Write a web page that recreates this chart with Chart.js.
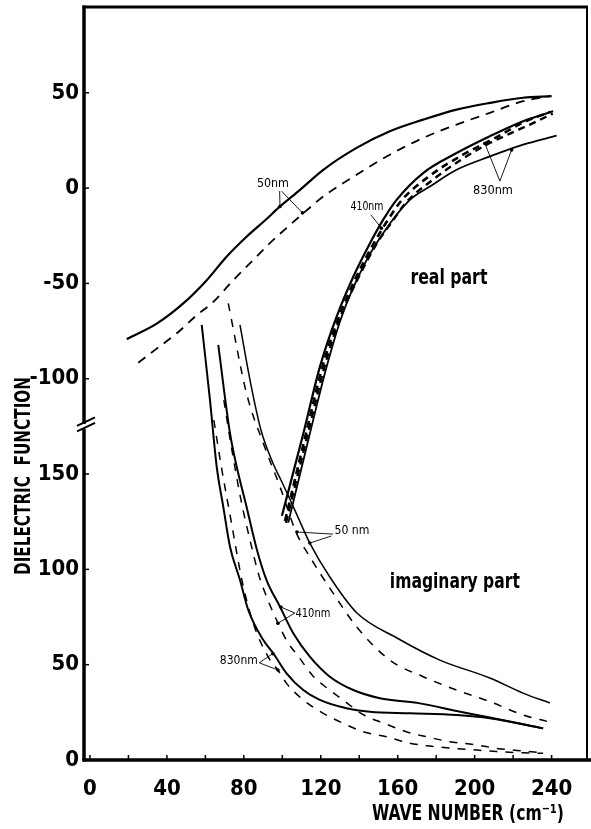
<!DOCTYPE html>
<html><head><meta charset="utf-8">
<script src="https://cdn.jsdelivr.net/npm/chart.js@4.4.1/dist/chart.umd.min.js"></script>
<style>html,body{margin:0;padding:0;background:#fff}#wrap{width:591px;height:829px;position:relative}</style>
</head><body><div id="wrap"><canvas id="c"></canvas></div>
<script>
// ---- tick labels ----
const xTickLabels = [0, 40, 80, 120, 160, 200, 240];
const xMinorTicks = [0, 20, 40, 60, 80, 100, 120, 140, 160, 180, 200, 220, 240];
const imagTickLabels = [0, 50, 100, 150];
const realTickLabels = [-100, -50, 0, 50];

// ---- real part series: [wave number, epsilon'] ----
const real50Solid = [[19.1,-79.2],[34.7,-71.1],[48.5,-60.5],[60.7,-48.3],[71.0,-36.0],[81.4,-25.5],[91.8,-16.2],[98.8,-9.6],[109.2,-0.9],[121.3,9.6],[138.6,21.1],[155.9,29.8],[173.2,35.9],[190.6,41.2],[207.9,44.7],[225.2,47.4],[240.0,48.2]];
const real50Dashed = [[25.1,-91.6],[34.7,-84.2],[45.0,-76.3],[55.5,-66.7],[64.1,-59.7],[74.5,-48.3],[84.9,-37.7],[95.3,-27.2],[104.0,-19.3],[110.9,-13.2],[121.3,-4.4],[138.6,7.0],[155.9,17.5],[173.2,26.3],[190.6,33.3],[207.9,39.5],[225.2,45.6],[239.1,48.2]];
const real410Solid = [[99.8,-171.9],[110.9,-128.9],[119.5,-93.9],[128.2,-67.6],[136.9,-46.5],[145.6,-28.9],[152.4,-16.7],[159.4,-6.2],[173.2,7.9],[190.6,18.4],[207.9,27.2],[225.2,35.1],[240.8,40.3]];
const real410Dashed = [[101.4,-174.6],[112.3,-128.8],[120.8,-93.9],[129.4,-67.6],[138.5,-46.5],[147.6,-28.9],[154.9,-16.7],[162.2,-6.2],[176.7,6.5],[193.9,17.5],[211.0,26.5],[225.2,34.4],[239.1,39.9]];
const real830Dashed = [[101.9,-175.6],[113.3,-128.8],[121.9,-93.9],[130.2,-67.6],[139.8,-46.5],[149.2,-28.9],[157.0,-17.7],[164.2,-7.7],[178.3,4.4],[193.9,15.5],[205.3,22.3],[218.3,28.6],[228.7,33.3],[240.6,39.1]];
const real830Solid = [[103.1,-175.5],[114.3,-128.9],[123.0,-93.9],[130.8,-67.6],[142.0,-41.3],[152.4,-23.7],[166.3,-6.2],[176.7,0.8],[190.6,9.6],[207.9,16.6],[225.2,22.8],[242.6,27.5]];

// ---- imaginary part series: [wave number, epsilon''] ----
const imag50Solid = [[78.0,228.2],[83.2,199.3],[88.9,173.1],[95.1,155.8],[99.8,145.8],[106.5,131.1],[114.3,113.8],[124.7,96.0],[138.8,77.1],[159.6,64.0],[181.9,52.4],[207.9,43.0],[225.1,35.1],[239.1,29.9]];
const imag50Dashed = [[71.9,239.5],[81.4,192.3],[90.1,166.1],[98.8,143.3],[107.4,118.9],[114.3,106.6],[126.5,87.4],[138.6,69.9],[155.9,52.4],[173.2,43.7],[190.6,36.7],[207.9,30.6],[225.2,23.6],[238.2,20.1]];
const imag410Solid = [[66.7,217.7],[72.8,171.4],[76.3,153.8],[81.4,132.9],[86.6,111.0],[91.8,94.4],[98.8,80.4],[105.7,66.5],[114.3,54.2],[124.7,43.7],[136.9,36.7],[150.7,32.4],[171.5,29.7],[190.6,25.7],[207.9,22.3],[235.6,16.6]];
const imag410Dashed = [[69.6,188.8],[73.8,162.6],[78.5,136.4],[83.2,115.4],[87.8,97.0],[92.5,83.9],[97.7,71.9],[102.4,62.4],[108.6,54.0],[115.9,44.1],[123.2,37.8],[131.5,31.5],[142.4,23.6],[153.8,18.9],[164.8,14.7],[175.0,12.2],[187.1,9.6],[201.0,7.9],[211.4,6.1],[225.2,4.7],[235.6,3.8]];
const imag830Solid = [[58.1,228.2],[62.4,188.8],[65.9,153.8],[69.3,132.9],[72.8,111.9],[78.0,94.4],[82.3,78.7],[90.1,62.9],[95.3,56.0],[102.2,45.5],[110.9,36.7],[119.5,31.5],[133.4,27.1],[145.5,25.3],[166.3,24.5],[190.6,23.6],[207.9,21.9],[235.6,16.6]];
const imag830Dashed = [[64.4,178.3],[68.6,152.1],[73.3,125.9],[79.0,94.4],[84.9,71.7],[93.6,52.4],[97.7,47.2],[102.2,40.2],[110.9,31.5],[121.3,24.5],[131.7,19.2],[142.0,14.8],[154.2,12.2],[166.3,8.8],[176.7,7.3],[188.8,6.1],[201.0,5.2],[211.4,4.4],[225.2,3.8],[235.6,3.5]];

// ---- broken axis mapping: the real panel sits above the imaginary one ----
const REAL_OFFSET = 300;   // real value r is drawn at r + 300 on the shared axis
const BREAK_AT = 175;      // axis break

const FONT = "'Liberation Sans Narrow','DejaVu Sans Condensed','Arial Narrow',sans-serif";

function toPts(arr, off) { return arr.map(p => ({ x: p[0], y: p[1] + off })); }
function ds(arr, off, width, dash) {
  return { data: toPts(arr, off), borderColor: '#000', borderWidth: width, borderDash: dash || [],
    pointRadius: 0, fill: false, cubicInterpolationMode: 'monotone', borderCapStyle: 'butt' };
}
const datasets = [
  ds(real50Solid, REAL_OFFSET, 2.2), ds(real50Dashed, REAL_OFFSET, 1.8, [9, 7]),
  ds(real410Solid, REAL_OFFSET, 2.2), ds(real410Dashed, REAL_OFFSET, 2.6, [7, 5]),
  ds(real830Dashed, REAL_OFFSET, 2.4, [7, 5]), ds(real830Solid, REAL_OFFSET, 1.8),
  ds(imag50Solid, 0, 1.5), ds(imag50Dashed, 0, 1.5, [8, 8]),
  ds(imag410Solid, 0, 2.0), ds(imag410Dashed, 0, 1.5, [8, 8]),
  ds(imag830Solid, 0, 2.0), ds(imag830Dashed, 0, 1.5, [8, 8])
];

// annotation layout (data coordinates on the shared axis)
const notes = [
  { t: '50nm', x: 95.1, c: 302.6, s: 13, w: 32 },
  { t: '410nm', x: 144.0, c: 290.1, s: 13, w: 33 },
  { t: '830nm', x: 209.5, c: 298.9, s: 13, w: 40 },
  { t: 'real part', x: 186.6, c: 252.8, s: 22, w: 77 },
  { t: '50 nm', x: 136.2, c: 120.1, s: 13, w: 35 },
  { t: 'imaginary part', x: 189.7, c: 93.4, s: 22, w: 130 },
  { t: '410nm', x: 115.9, c: 76.6, s: 13, w: 35 },
  { t: '830nm', x: 77.4, c: 51.9, s: 13, w: 38 }
];
const leaders = [
  [[98.6, 298.4], [98.8, 290.4]], [[99.6, 298.4], [110.5, 287.0]],
  [[146.0, 286.0], [151.5, 279.0]],
  [[213.1, 303.7], [205.3, 323.4]], [[213.1, 303.7], [219.2, 320.0]],
  [[126.3, 118.5], [107.6, 119.6]], [[125.5, 117.5], [114.3, 113.8]],
  [[106.5, 77.1], [99.3, 80.2]], [[106.5, 77.1], [97.7, 71.7]],
  [[88.0, 51.0], [95.1, 55.8]], [[88.0, 51.0], [97.7, 47.2]]
];

const framePlugin = {
  id: 'frame',
  afterDraw(chart) {
    const { ctx, chartArea: a, scales: { x, y } } = chart;
    const line = (x1, y1, x2, y2, w) => { ctx.lineWidth = w; ctx.beginPath(); ctx.moveTo(x1, y1); ctx.lineTo(x2, y2); ctx.stroke(); };
    ctx.save();
    ctx.strokeStyle = '#000'; ctx.fillStyle = '#000'; ctx.setLineDash([]);
    // frame
    line(a.left - 1.5, a.top, a.right + 1, a.top, 3);
    line(a.right, a.top, a.right, a.bottom, 2);
    line(a.left, a.top - 1.5, a.left, a.bottom + 1.5, 3.5);
    line(a.left - 1.5, a.bottom, chart.width, a.bottom, 3.5);
    // inward ticks
    xMinorTicks.forEach(v => { const px = x.getPixelForValue(v); line(px, a.bottom, px, a.bottom - 5, 1.5); });
    imagTickLabels.concat(realTickLabels.map(v => v + REAL_OFFSET)).forEach(v => {
      if (v === 0) return; const py = y.getPixelForValue(v); line(a.left, py, a.left + 5, py, 1.5);
    });
    // axis break
    const yb = y.getPixelForValue(BREAK_AT);
    ctx.fillStyle = '#fff'; ctx.fillRect(a.left - 3, yb - 2.5, 6, 5); ctx.fillStyle = '#000';
    line(a.left - 7, yb - 0.5, a.left + 11, yb - 9, 2);
    line(a.left - 7, yb + 5, a.left + 11, yb - 3.5, 2);
    // leaders
    leaders.forEach(l => {
      const x1 = x.getPixelForValue(l[0][0]), y1 = y.getPixelForValue(l[0][1]);
      const x2 = x.getPixelForValue(l[1][0]), y2 = y.getPixelForValue(l[1][1]);
      line(x1, y1, x2, y2, 0.9);
      ctx.beginPath(); ctx.arc(x2, y2, 1.8, 0, Math.PI * 2); ctx.fill();
    });
    // annotations
    ctx.textAlign = 'center'; ctx.textBaseline = 'middle';
    notes.forEach(n => {
      ctx.font = (n.s > 15 ? 'bold ' : '') + n.s + 'px ' + FONT;
      ctx.fillText(n.t, x.getPixelForValue(n.x), y.getPixelForValue(n.c), n.w);
    });
    // axis titles
    ctx.font = 'bold 21px ' + FONT;
    ctx.fillText('WAVE NUMBER (cm⁻¹)', 468, 815, 192);
    ctx.save();
    ctx.translate(25, 476);
    ctx.rotate(-Math.PI / 2);
    ctx.fillText('DIELECTRIC  FUNCTION', 0, 0, 198);
    ctx.restore();
    ctx.restore();
  }
};

new Chart(document.getElementById('c'), {
  type: 'line',
  data: { datasets },
  options: {
    responsive: true, maintainAspectRatio: false, animation: false,
    layout: { padding: { top: 7, right: 4, left: 0, bottom: 0 } },
    plugins: { legend: { display: false }, tooltip: { enabled: false } },
    scales: {
      x: {
        type: 'linear', min: -3.1, max: 258.4,
        grid: { display: false, drawTicks: false }, border: { display: false },
        afterBuildTicks: s => { s.ticks = xTickLabels.map(v => ({ value: v })); },
        afterFit: s => { s.height = 69; s.paddingLeft = 0; s.paddingRight = 0; },
        ticks: { color: '#000', padding: 16, maxRotation: 0, autoSkip: false, font: { family: FONT, size: 22, weight: 'bold' } }
      },
      y: {
        type: 'linear', min: 0, max: 395,
        grid: { display: false, drawTicks: false }, border: { display: false },
        afterBuildTicks: s => { s.ticks = imagTickLabels.concat(realTickLabels.map(v => v + REAL_OFFSET)).map(v => ({ value: v })); },
        afterFit: s => { s.width = 84; s.paddingTop = 0; s.paddingBottom = 0; },
        ticks: { color: '#000', padding: 5, autoSkip: false, font: { family: FONT, size: 22, weight: 'bold' },
          callback: v => String(v >= BREAK_AT ? v - REAL_OFFSET : v) }
      }
    }
  },
  plugins: [framePlugin]
});
</script></body></html>
